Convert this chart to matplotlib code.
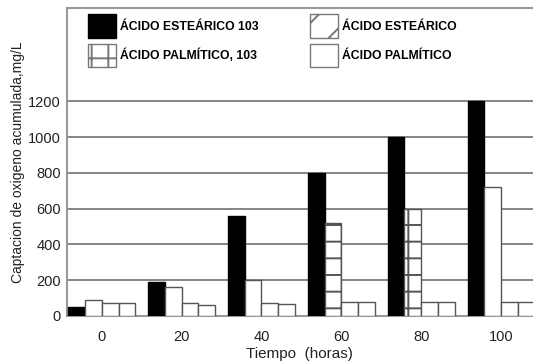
import numpy as np
import matplotlib
matplotlib.use("Agg")
import matplotlib.pyplot as plt
from matplotlib.patches import Patch

# Tiempo (horas)
tiempo = [0, 20, 40, 60, 80, 100]

# Captación de oxígeno acumulada, mg/L
estearico_103 = [50, 190, 560, 800, 1000, 1200]
palmitico_103 = [90, 160, 200, 520, 600, 720]
estearico = [75, 70, 70, 80, 80, 80]
palmitico = [70, 60, 65, 80, 80, 80]

labels = ["ÁCIDO ESTEÁRICO 103", "ÁCIDO PALMÍTICO, 103",
          "ÁCIDO ESTEÁRICO", "ÁCIDO PALMÍTICO"]

plt.rcParams["font.family"] = ["Liberation Sans", "DejaVu Sans"]
plt.rcParams["hatch.linewidth"] = 1.4
plt.rcParams["hatch.color"] = "black"

fig = plt.figure(figsize=(5.33, 3.64), dpi=100)
ax = fig.add_axes([0.125, 0.132, 0.875, 0.845])

x = np.arange(len(tiempo))
w = 0.21
edge = "#555555"

ax.bar(x - 1.5 * w, estearico_103, w, color="black", edgecolor="black", zorder=3)
palm_hatch = ["", "", "", "+", "+", ""]
bars = ax.bar(x - 0.5 * w, palmitico_103, w, color="white", edgecolor=edge,
              linewidth=1, zorder=3)
for b, h in zip(bars, palm_hatch):
    b.set_hatch(h)
ax.bar(x + 0.5 * w, estearico, w, color="white", edgecolor=edge, linewidth=1, zorder=3)
ax.bar(x + 1.5 * w, palmitico, w, color="white", edgecolor=edge, linewidth=1, zorder=3)

ax.set_xlim(-0.44, 5.4)
ax.set_ylim(0, 1720)
ax.set_yticks([0, 200, 400, 600, 800, 1000, 1200])
ax.set_xticks(x)
ax.set_xticklabels([str(t) for t in tiempo])
ax.tick_params(length=0, labelsize=10.5, colors="#222222", pad=4)
ax.tick_params(axis="x", pad=10)

for yv in [200, 400, 600, 800, 1000, 1200]:
    ax.axhline(yv, color="#858585", lw=1.4, zorder=1)

for s in ["left", "top", "bottom"]:
    ax.spines[s].set_color("#999999")
    ax.spines[s].set_linewidth(1.5)
ax.spines["right"].set_visible(False)

ax.set_ylabel("Captacion de oxigeno acumulada,mg/L", fontsize=10, color="#222222",
              labelpad=2)
ax.set_xlabel("Tiempo  (horas)", fontsize=11, color="#222222", labelpad=2)

handles = [
    Patch(facecolor="black", edgecolor="black"),
    Patch(facecolor="white", edgecolor="#777777", hatch="+"),
    Patch(facecolor="white", edgecolor="#777777", hatch="/"),
    Patch(facecolor="white", edgecolor="#777777"),
]
fig.legend(handles, labels, ncol=2, loc="upper left",
           bbox_to_anchor=(88 / 533, 1 - 14 / 364), frameon=False,
           prop={"size": 8.8, "weight": "bold"}, borderpad=0, borderaxespad=0,
           handlelength=2.3, handleheight=2.6, handletextpad=0.3,
           columnspacing=4.2, labelspacing=0.5)

fig.savefig("out.png", dpi=100)
